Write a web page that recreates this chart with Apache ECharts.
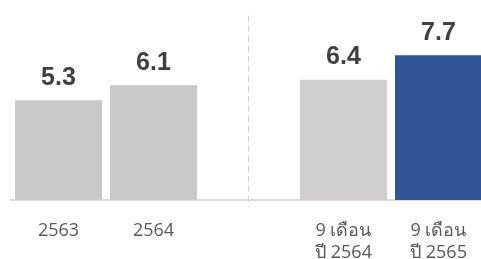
<!DOCTYPE html>
<html>
<head>
<meta charset="utf-8">
<script src="https://cdn.jsdelivr.net/npm/echarts@6/dist/echarts.min.js"></script>
<style>
  html, body { margin: 0; padding: 0; background: #fff; }
  #chart { width: 481px; height: 259px; }
</style>
</head>
<body>
<div id="chart"></div>
<script>
// categories (empty middle slot holds the divider)
const categories = ['2563', '2564', '', '9 เดือน\nปี 2564', '9 เดือน\nปี 2565']
const values = [5.3, 6.1, null, 6.4, 7.7]
const barColors = ['#c9c9c9', '#c9c9c9', '#c9c9c9', '#d0cece', '#2f5597']

const chart = echarts.init(document.getElementById('chart'))
const option = {
  animation: false,
  grid: {
    left: 11,
    width: 475,
    top: 12,
    height: 195.5,
    containLabel: false,
    outerBoundsMode: 'none'
  },
  xAxis: {
    type: 'category',
    data: categories,
    axisLine: { onZero: true, lineStyle: { color: '#d9d9d9', width: 2 } },
    axisTick: { show: false },
    axisLabel: {
      color: '#595959',
      fontSize: 18,
      fontFamily: 'Open Sans, Noto Sans, sans-serif',
      margin: 12,
      lineHeight: 22,
      interval: 0
    }
  },
  yAxis: {
    type: 'value',
    min: -0.4,
    max: 10,
    show: false
  },
  series: [
    {
      type: 'bar',
      clip: false,
      barWidth: 87,
      data: values.map((v, i) => ({ value: v, itemStyle: { color: barColors[i] } })),
      label: {
        show: true,
        position: 'top',
        distance: 10,
        color: '#404040',
        fontSize: 25,
        fontWeight: 'bold',
        fontFamily: 'Liberation Sans, Arial, sans-serif'
      },
      markLine: {
        silent: true,
        symbol: 'none',
        label: { show: false },
        lineStyle: { color: '#d0d0d0', type: [6, 4], width: 1 },
        data: [
          [{ coord: [2, 9.8] }, { coord: [2, -0.37] }]
        ]
      }
    }
  ]
}
chart.setOption(option)
</script>
</body>
</html>
